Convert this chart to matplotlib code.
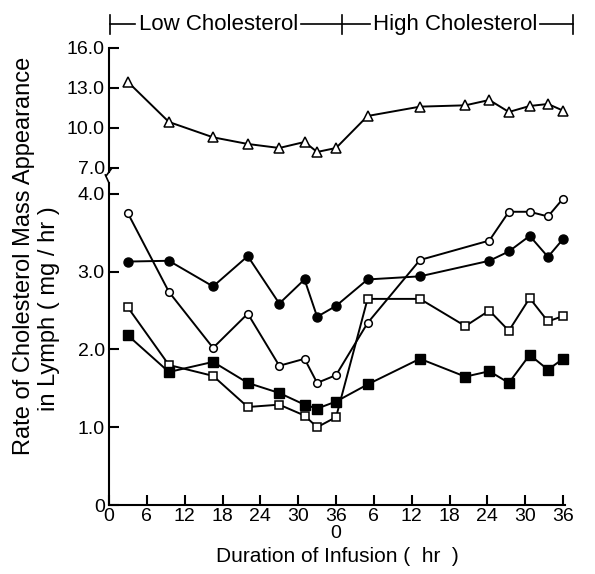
import numpy as np
import matplotlib
matplotlib.use('Agg')
import matplotlib.pyplot as plt

plt.rcParams['font.family'] = ['Liberation Sans', 'DejaVu Sans']

# hours on a continuous axis: 0-36 low cholesterol, 36-72 high cholesterol
hours = [3.0, 9.5, 16.5, 22.0, 27.0, 31.0, 33.0, 36.0, 41.0, 49.3, 56.5, 60.3, 63.4, 66.7, 69.6, 72.0]
hours_circ = [h for i, h in enumerate(hours) if i != 10]

triangles = [13.45, 10.45, 9.3, 8.8, 8.5, 8.95, 8.2, 8.5, 10.9, 11.6, 11.7, 12.1, 11.2, 11.65, 11.8, 11.3]
open_circ = [3.75, 2.74, 2.02, 2.46, 1.79, 1.88, 1.57, 1.67, 2.34, 3.15, 3.40, 3.77, 3.77, 3.71, 3.94]
fill_circ = [3.13, 3.14, 2.81, 3.20, 2.59, 2.90, 2.42, 2.56, 2.90, 2.94, 3.14, 3.26, 3.46, 3.19, 3.42]
open_sq = [2.54, 1.80, 1.66, 1.26, 1.29, 1.15, 1.00, 1.13, 2.65, 2.65, 2.30, 2.50, 2.24, 2.66, 2.36, 2.43]
fill_sq = [2.18, 1.71, 1.84, 1.57, 1.44, 1.29, 1.24, 1.33, 1.55, 1.88, 1.65, 1.72, 1.57, 1.93, 1.74, 1.88]

xticks = [0, 6, 12, 18, 24, 30, 36, 42, 48, 54, 60, 66, 72]
xticklabels = ['0', '6', '12', '18', '24', '30', '36\n0', '6', '12', '18', '24', '30', '36']
top_yticks = [7.0, 10.0, 13.0, 16.0]
bot_yticks = [0, 1.0, 2.0, 3.0, 4.0]

W, H = 595, 574
fig = plt.figure(figsize=(W / 100, H / 100), dpi=100, facecolor='w')

x0, x1 = 109, 565
ax = fig.add_axes([x0 / W, (H - 505) / H, (x1 - x0) / W, (505 - 183) / H])
axt = fig.add_axes([x0 / W, (H - 172) / H, (x1 - x0) / W, (172 - 48) / H], sharex=ax)

lw = 1.4
kw = dict(color='k', lw=lw, clip_on=False)
axt.plot(hours, triangles, marker='^', ms=6.5, mfc='w', mec='k', mew=1.1, **kw)
ax.plot(hours_circ, open_circ, marker='o', ms=5.5, mfc='w', mec='k', mew=1.1, **kw)
ax.plot(hours_circ, fill_circ, marker='o', ms=6.5, mfc='k', mec='k', **kw)
ax.plot(hours, open_sq, marker='s', ms=6, mfc='w', mec='k', mew=1.1, **kw)
ax.plot(hours, fill_sq, marker='s', ms=6.5, mfc='k', mec='k', **kw)

ax.set_xlim(0, 72.3)
ax.set_ylim(0, 4.14)
axt.set_ylim(16.0 - 124 / 13.33, 16.0)

for a in (ax, axt):
    a.spines['top'].set_visible(False)
    a.spines['right'].set_visible(False)
    a.spines['left'].set_linewidth(1.5)
    a.spines['bottom'].set_linewidth(1.5)
    a.tick_params(direction='in', length=7, width=1.5, labelsize=14, pad=3)
axt.spines['bottom'].set_visible(False)
axt.tick_params(axis='x', bottom=False, labelbottom=False)

ax.set_yticks(bot_yticks)
ax.set_yticklabels(['0' if v == 0 else '%.1f' % v for v in bot_yticks])
axt.set_yticks(top_yticks)
axt.set_yticklabels(['%.1f' % v for v in top_yticks])
ax.set_xticks(xticks)
ax.set_xticklabels(xticklabels, linespacing=1.0)
ax.tick_params(axis='x', pad=2)

# axis break marks (axes coordinates)
ax.plot([0, -0.008], [1.0, 1.025], transform=ax.transAxes, color='k', lw=1.2, clip_on=False)
axt.plot([0.006, -0.006], [0.03, -0.03], transform=axt.transAxes, color='k', lw=1.2, clip_on=False)

# top bracket: low / high cholesterol periods
tr = axt.get_xaxis_transform()
yb = 1.19
bk = dict(transform=tr, color='k', lw=1.2, clip_on=False)
axt.plot([0.16, 0.16], [yb - 0.08, yb + 0.08], **bk)
axt.plot([0.16, 4.1], [yb, yb], **bk)
axt.plot([30.5, 41.4], [yb, yb], **bk)
axt.plot([36.9, 36.9], [yb - 0.08, yb + 0.08], **bk)
axt.plot([68.3, 73.6], [yb, yb], **bk)
axt.plot([73.6, 73.6], [yb - 0.08, yb + 0.08], **bk)
axt.text(4.7, yb, 'Low Cholesterol', transform=tr, ha='left', va='center', fontsize=16)
axt.text(41.9, yb, 'High Cholesterol', transform=tr, ha='left', va='center', fontsize=16)

fig.text(337 / W, 1 - 556 / H, 'Duration of Infusion (  hr  )', ha='center', va='center', fontsize=15)
fig.text(24 / W, 1 - 256 / H, 'Rate of Cholesterol Mass Appearance', rotation=90, ha='center', va='center', fontsize=17)
fig.text(49 / W, 1 - 309 / H, 'in Lymph ( mg / hr )', rotation=90, ha='center', va='center', fontsize=17)

fig.savefig('out.png', dpi=100, facecolor='w')
